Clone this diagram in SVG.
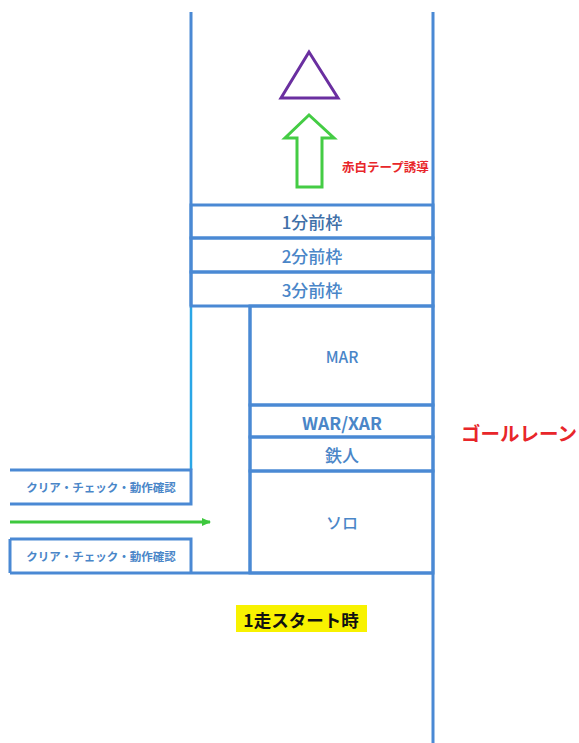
<svg xmlns="http://www.w3.org/2000/svg" width="579" height="743" viewBox="0 0 579 743">
<style>
.ln{stroke:#4a89d4;stroke-width:3;fill:none}
.bx{stroke:#4a89d4;stroke-width:3;fill:none}
.t{font-family:"Noto Sans CJK JP","Noto Sans",sans-serif;fill:#4a86c8;text-anchor:middle;dominant-baseline:central;font-weight:500}
.tb{font-weight:bold}
.red{font-family:"Noto Sans CJK JP",sans-serif;fill:#e8262a;font-weight:bold;dominant-baseline:central}
</style>
<defs>
<marker id="ah" markerWidth="10" markerHeight="10" refX="8" refY="5" orient="auto" markerUnits="userSpaceOnUse">
<path d="M0,1 L9,5 L0,9 Z" fill="#3ec83e"/>
</marker>
</defs>
<rect width="579" height="743" fill="#ffffff"/>
<g id="lane-lines">
<line class="ln" x1="191" y1="12" x2="191" y2="306"/>
<line x1="191" y1="306" x2="191" y2="470" stroke="#2aa6e6" stroke-width="2.5"/>
<line class="ln" x1="433" y1="12" x2="433" y2="743"/>
<line class="ln" x1="250" y1="306" x2="250" y2="573"/>
<line class="ln" x1="10" y1="573" x2="433" y2="573"/>
</g>
<g id="target">
<polygon points="309,52 281,98 338,98" fill="none" stroke="#6a2fa0" stroke-width="3"/>
</g>
<g id="guide-arrow">
<polygon points="309,115 285,138 297,138 297,187 322,187 322,138 334,138" fill="none" stroke="#44cc44" stroke-width="3"/>
</g>
<text class="red" x="342" y="166" font-size="12.5">赤白テープ誘導</text>
<g id="frame1"><rect class="bx" x="191" y="205" width="242" height="33"/><text class="t" x="312" y="221" font-size="17" style="fill:#3f70a8">1分前枠</text></g>
<g id="frame2"><rect class="bx" x="191" y="238" width="242" height="34"/><text class="t" x="312" y="255" font-size="17">2分前枠</text></g>
<g id="frame3"><rect class="bx" x="191" y="272" width="242" height="34"/><text class="t" x="312" y="289" font-size="17">3分前枠</text></g>
<g id="mar"><rect class="bx" x="250" y="306" width="183" height="99"/><text class="t" x="342" y="356" font-size="15.5">MAR</text></g>
<g id="war"><rect class="bx" x="250" y="405" width="183" height="32"/><text class="t tb" x="342" y="422" font-size="17.5">WAR/XAR</text></g>
<g id="tetsujin"><rect class="bx" x="250" y="437" width="183" height="34"/><text class="t" x="342" y="454" font-size="17">鉄人</text></g>
<g id="solo"><rect class="bx" x="250" y="471" width="183" height="102"/><text class="t" x="342" y="522" font-size="16">ソロ</text></g>
<g id="check-upper">
<path class="bx" d="M10,470 H191 V504 H10"/>
<text class="t tb" x="101" y="487" font-size="11.5">クリア・チェック・動作確認</text>
</g>
<g id="check-lower">
<path class="bx" d="M10,539 H191 V573 M10,539 V573"/>
<text class="t tb" x="101" y="556" font-size="11.5">クリア・チェック・動作確認</text>
</g>
<g id="connectors">
<line x1="10" y1="522" x2="210" y2="522" stroke="#3ec83e" stroke-width="3" marker-end="url(#ah)"/>
</g>
<text class="red" x="461" y="432" font-size="19.5">ゴールレーン</text>
<g id="start-label">
<rect x="236" y="605" width="131" height="27" fill="#f8f200"/>
<text x="301" y="619" font-family="Noto Sans CJK JP,sans-serif" font-size="17.5" font-weight="bold" fill="#111" text-anchor="middle" dominant-baseline="central">1走スタート時</text>
</g>
</svg>
